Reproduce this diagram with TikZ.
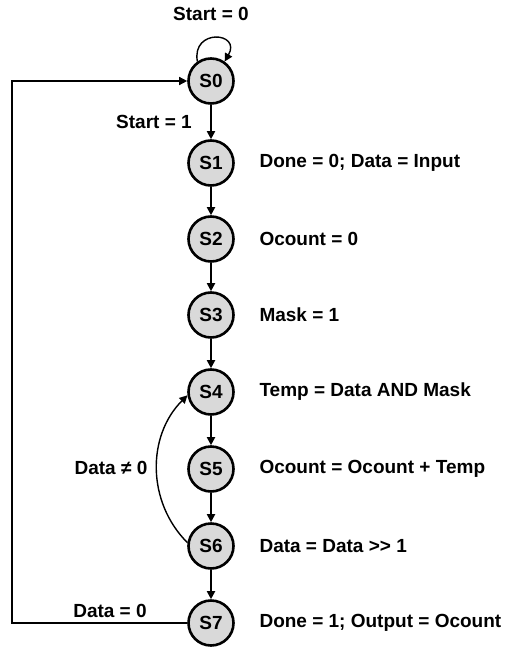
\documentclass[tikz,border=0pt]{standalone}
\usepackage{fontspec}
\setmainfont{Liberation Sans}
\usepackage{xcolor}
\usetikzlibrary{positioning,arrows.meta,calc}

\begin{document}
\begin{tikzpicture}[
    x=1pt, y=-1pt,
    >=Latex,
    state/.style  = {circle, draw=black, line width=2.6pt, fill=black!15,
                     minimum size=45pt, inner sep=0pt, font=\fontsize{19}{21}\bfseries},
    act/.style    = {anchor=west, font=\fontsize{19}{21}\bfseries},
    cond/.style   = {font=\fontsize{19}{21}\bfseries},
    arr/.style    = {->, line width=1.8pt, >={Triangle[length=8pt,width=8pt]}},
    back/.style   = {->, line width=1.4pt, >={Triangle[length=8pt,width=8pt]}},
]
\useasboundingbox (0,0) rectangle (505,650);

% =============================== states =======================================
\node[state] (S0) at (211, 81) {S0};
\foreach \i/\y/\txt in {1/163/{Done = 0; Data = Input},
                        2/239/{Ocount = 0},
                        3/315/{Mask = 1},
                        4/392/{Temp = Data AND Mask},
                        5/469/{Ocount = Ocount + Temp},
                        6/546/{Data = Data >\kern0pt> 1},
                        7/623/{Done = 1; Output = Ocount}} {
    \node[state] (S\i) at (211, \y) {S\i};
    \node[act]   (A\i) at (256, \y) {\txt};
}

% =============================== transitions ==================================
\foreach \i [evaluate=\i as \j using int(\i+1)] in {0,...,6} {
    \draw[arr] (S\i) -- (S\j);
}
% wait in S0 while Start = 0
\draw[back] (S0.125) to[out=100, in=60, looseness=3.2] (S0.55);
\node[cond] (C00) at (211, 14) {Start = 0};
\node[cond] (C01) at (154, 122) {Start = 1};
% loop back to S4 while Data is not zero
\draw[back] (S6.172) to[bend left=45] (S4.188);
\node[cond] (C64) at (111, 468) {Data ≠ 0};
% done: back to S0
\coordinate (L7) at (12, 623);
\coordinate (L0) at (12, 81);
\draw[back] (S7.west) -- (L7) -- (L0) -- (S0.west);
\node[cond] (C70) at (110, 611) {Data = 0};

\end{tikzpicture}
\end{document}
